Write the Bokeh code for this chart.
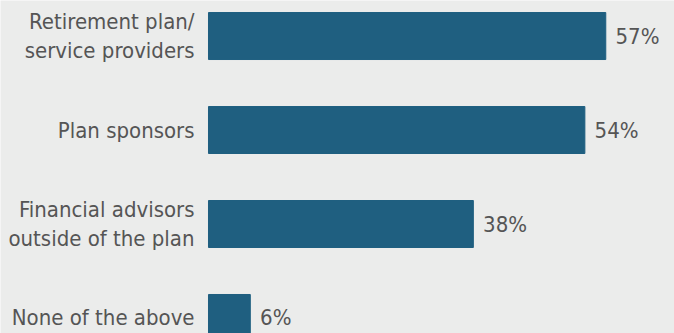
from bokeh.plotting import figure
from bokeh.models import Range1d, ColumnDataSource
from bokeh.core.properties import value
from bokeh.embed import file_html
from bokeh.resources import INLINE

categories = ["Retirement plan/\nservice providers", "Plan sponsors",
              "Financial advisors\noutside of the plan", "None of the above"]
values = [57, 54, 38, 6]
value_labels = ["57%", "54%", "38%", "6%"]

BG = "#ebeceb"
BAR = "#1f5f80"
TXT = "#555555"
FONT = "DejaVu Sans Condensed, Roboto, sans-serif"

pos = list(range(len(categories)))
src = ColumnDataSource(dict(y=pos, v=values, cat=categories, lab=value_labels,
                            lx=[v + 1.4 for v in values], cx=[-2.0] * len(pos)))

p = figure(width=674, height=333, output_backend="svg", toolbar_location=None,
           x_range=Range1d(-29.84, 66.86), y_range=Range1d(3.165, -0.378),
           background_fill_color=BG, border_fill_color=BG, min_border=0,
           outline_line_color=None)
p.axis.visible = False
p.grid.visible = False

p.hbar(y="y", right="v", left=0, height=0.5, color=BAR, source=src)
p.text(x="cx", y="y", text="cat", source=src, text_align="right", text_baseline="middle",
       text_font=value(FONT), text_font_size="22px", text_color=TXT, text_line_height=1.14)
p.text(x="lx", y="y", text="lab", source=src, text_align="left", text_baseline="middle",
       text_font=value(FONT), text_font_size="22px", text_color=TXT)

open("out.html", "w").write(file_html(p, INLINE))
